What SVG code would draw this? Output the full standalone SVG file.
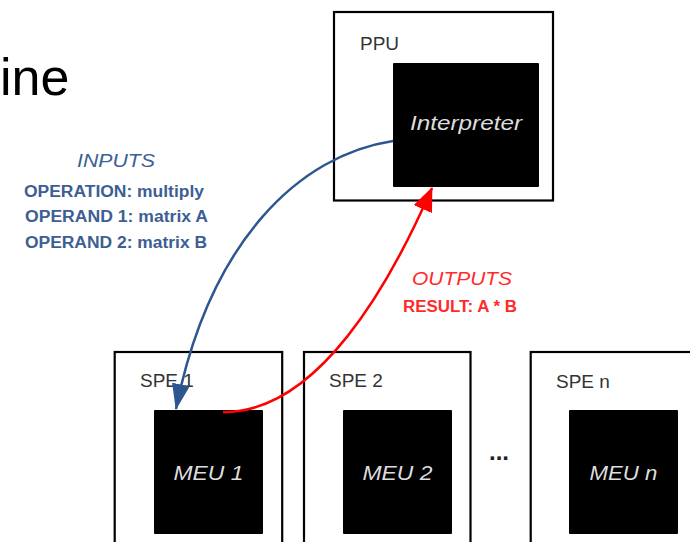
<svg xmlns="http://www.w3.org/2000/svg" width="690" height="542" viewBox="0 0 690 542">
  <style>
    .frame { fill: #ffffff; stroke: #000000; stroke-width: 2.2; }
    .unit { fill: #000000; }
    .label { font-family: "Liberation Sans", Arial, sans-serif; font-size: 19px; fill: #333333; }
    .unit-text { font-family: "Liberation Sans", Arial, sans-serif; font-size: 20px; font-style: italic; fill: #dddddd; text-anchor: middle; }
    .in-title { font-family: "Liberation Sans", Arial, sans-serif; font-size: 18px; font-style: italic; fill: #3d5e94; text-anchor: middle; }
    .in-line { font-family: "Liberation Sans", Arial, sans-serif; font-size: 16px; font-weight: bold; fill: #3d5e94; text-anchor: middle; }
    .out-title { font-family: "Liberation Sans", Arial, sans-serif; font-size: 18px; font-style: italic; fill: #ff2a2a; text-anchor: middle; }
    .out-line { font-family: "Liberation Sans", Arial, sans-serif; font-size: 16px; font-weight: bold; fill: #ff2a2a; text-anchor: middle; }
    .flow-in { fill: none; stroke: #2d5690; stroke-width: 2.5; }
    .flow-out { fill: none; stroke: #ff0000; stroke-width: 2.5; }
  </style>
  <defs>
    <marker id="head-blue" markerUnits="userSpaceOnUse" viewBox="0 0 26 18" refX="25" refY="9" markerWidth="26" markerHeight="18" orient="auto">
      <path d="M0,0 L26,9 L0,18 z" fill="#2d5690"/>
    </marker>
    <marker id="head-red" markerUnits="userSpaceOnUse" viewBox="0 0 24 20" refX="23" refY="10" markerWidth="24" markerHeight="20" orient="auto">
      <path d="M0,0 L24,10 L0,20 z" fill="#ff0000"/>
    </marker>
  </defs>

  <!-- heading fragment at the top-left -->
  <text x="0" y="95" font-family="'Liberation Sans', Arial, sans-serif" font-size="52" fill="#000000">ine</text>

  <g id="ppu">
    <rect class="frame" x="334" y="12" width="219" height="188.5"/>
    <text class="label" x="360" y="50">PPU</text>
    <g id="interpreter">
      <rect class="unit" x="393" y="63" width="146" height="124" rx="1"/>
      <text class="unit-text" x="466" y="130" font-size="18" textLength="112" lengthAdjust="spacingAndGlyphs">Interpreter</text>
    </g>
  </g>

  <g id="spe1">
    <rect class="frame" x="114.7" y="352" width="167.5" height="220"/>
    <text class="label" x="140" y="387">SPE 1</text>
    <g id="meu1">
      <rect class="unit" x="154" y="410" width="109" height="124" rx="1"/>
      <text class="unit-text" x="208.5" y="480" textLength="70" lengthAdjust="spacingAndGlyphs">MEU 1</text>
    </g>
  </g>

  <g id="spe2">
    <rect class="frame" x="304" y="352" width="166.5" height="220"/>
    <text class="label" x="329" y="387">SPE 2</text>
    <g id="meu2">
      <rect class="unit" x="343" y="410" width="109" height="124" rx="1"/>
      <text class="unit-text" x="397.5" y="480" textLength="70" lengthAdjust="spacingAndGlyphs">MEU 2</text>
    </g>
  </g>

  <text id="ellipsis" x="489" y="460" font-family="'Liberation Sans', Arial, sans-serif" font-size="24" font-weight="bold" fill="#222222">...</text>

  <g id="spen">
    <rect class="frame" x="530.7" y="352" width="167" height="220"/>
    <text class="label" x="556" y="388">SPE n</text>
    <g id="meun">
      <rect class="unit" x="569" y="410" width="109" height="124" rx="1"/>
      <text class="unit-text" x="623.5" y="480" textLength="68" lengthAdjust="spacingAndGlyphs">MEU n</text>
    </g>
  </g>

  <g id="inputs">
    <text class="in-title" x="116" y="167" textLength="78" lengthAdjust="spacingAndGlyphs">INPUTS</text>
    <text class="in-line" x="114" y="196.5" textLength="180" lengthAdjust="spacingAndGlyphs">OPERATION: multiply</text>
    <text class="in-line" x="116.5" y="222" textLength="183" lengthAdjust="spacingAndGlyphs">OPERAND 1: matrix A</text>
    <text class="in-line" x="116" y="247.5" textLength="182" lengthAdjust="spacingAndGlyphs">OPERAND 2: matrix B</text>
  </g>

  <g id="outputs">
    <text class="out-title" x="462" y="285" textLength="100" lengthAdjust="spacingAndGlyphs">OUTPUTS</text>
    <text class="out-line" x="460" y="312" textLength="114" lengthAdjust="spacingAndGlyphs">RESULT: A * B</text>
  </g>

  <g id="connectors">
    <path class="flow-in" d="M393,141 C300,155 210,240 176,409" marker-end="url(#head-blue)"/>
    <path class="flow-out" d="M223,412 C318,413 390,284 432,188" marker-end="url(#head-red)"/>
  </g>
</svg>
